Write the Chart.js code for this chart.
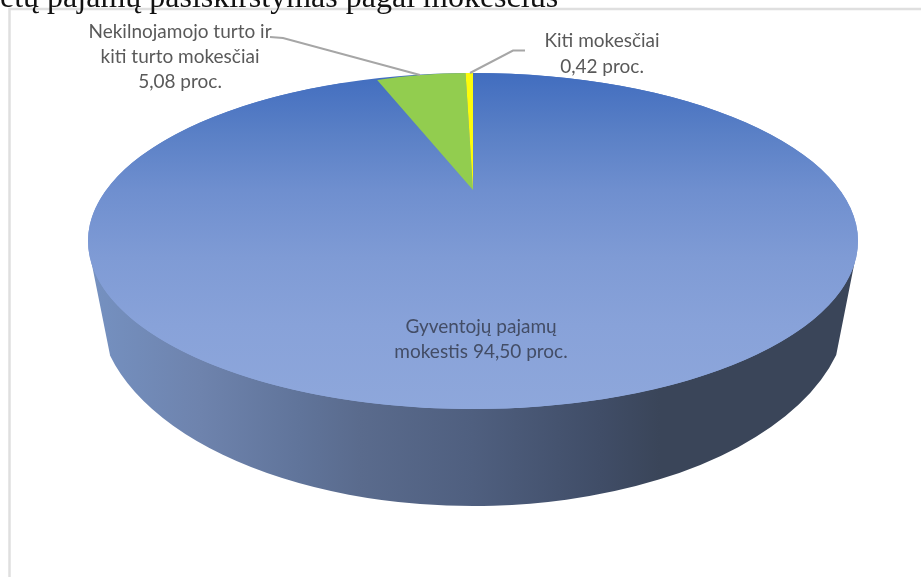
<!DOCTYPE html>
<html lang="lt">
<head>
<meta charset="utf-8">
<style>html,body{margin:0;padding:0;background:#fff;overflow:hidden}canvas{display:block}</style>
<script src="https://cdn.jsdelivr.net/npm/chart.js@4"></script>
</head>
<body>
<canvas id="c" width="921" height="577"></canvas>
<script>
const categories = ["Gyventojų pajamų mokestis", "Nekilnojamojo turto ir kiti turto mokesčiai", "Kiti mokesčiai"];
const shares = [94.50, 5.08, 0.42];
const sliceColors = ["#4472c4", "#92cd4f", "#fcfc0a"];
const heading = "etų pajamų pasiskirstymas pagal mokesčius";
const label0 = ["Gyventojų pajamų", "mokestis 94,50 proc."];
const label1 = ["Nekilnojamojo turto ir", "kiti turto mokesčiai", "5,08 proc."];
const label2 = ["Kiti mokesčiai", "0,42 proc."];

const CX = 473, CY = 241, RX = 385, RY = 168;   // top-face ellipse
const APEX_Y = 190, WEDGE_RX = 283, WEDGE_RY = 117; // perspective of the small wedges

function topGradient(ctx, y0, y1) {
  const g = ctx.createLinearGradient(0, y0, 0, y1);
  g.addColorStop(0, "#416dbf");
  g.addColorStop(0.18, "#5a80c6");
  g.addColorStop(0.35, "#6f8fcf");
  g.addColorStop(0.55, "#7f9bd5");
  g.addColorStop(0.75, "#88a2d9");
  g.addColorStop(1, "#8ea7db");
  return g;
}

const pie3d = {
  id: "pie3d",
  beforeDatasetDraw(chart, args) {
    const ctx = chart.ctx;
    const arcs = args.meta.data;
    const R = arcs[0].outerRadius, ax = arcs[0].x, ay = arcs[0].y;

    // frame
    ctx.save();
    ctx.strokeStyle = "#dfdfdf";
    ctx.lineWidth = 2.5;
    ctx.beginPath();
    ctx.moveTo(9.5, 577); ctx.lineTo(9.5, 9); ctx.lineTo(921, 9);
    ctx.stroke();

    // side wall
    const w = ctx.createLinearGradient(90, 0, 857, 0);
    [[90,"#7591c1"],[200,"#6e83ad"],[300,"#60749a"],[360,"#5a6b8d"],[473,"#4f5f7f"],[600,"#404d67"],[660,"#3a4559"],[857,"#3a4559"]]
      .forEach(s => w.addColorStop((s[0]-90)/767, s[1]));
    ctx.fillStyle = w;
    ctx.beginPath();
    ctx.moveTo(89, 250);
    ctx.lineTo(110, 355);
    ctx.ellipse(CX, 305, 375, 201, 0, Math.PI - Math.asin(50/201), Math.asin(50/201), true);
    ctx.lineTo(857, 250);
    ctx.closePath();
    ctx.fill();

    // full top face under the slices
    ctx.fillStyle = topGradient(ctx, CY - RY, CY + RY);
    ctx.beginPath();
    ctx.ellipse(CX, CY, RX, RY, 0, 0, Math.PI * 2);
    ctx.fill();
    ctx.restore();

    // slices, drawn by the library's arc elements
    arcs.forEach((arc, i) => {
      ctx.save();
      if (i === 0) {
        arc.options.backgroundColor = topGradient(ctx, ay - R, ay + R);
        ctx.translate(CX, CY); ctx.scale(RX / R, RY / R);
      } else {
        ctx.translate(CX, APEX_Y); ctx.scale(WEDGE_RX / R, WEDGE_RY / R);
      }
      ctx.translate(-ax, -ay);
      arc.draw(ctx);
      ctx.restore();
    });
    return false;
  },
  afterDatasetsDraw(chart) {
    const ctx = chart.ctx;
    ctx.save();
    // leader lines
    ctx.strokeStyle = "#a6a6a6";
    ctx.lineWidth = 2;
    ctx.beginPath();
    ctx.moveTo(270, 37); ctx.lineTo(283, 38); ctx.lineTo(420, 75);
    ctx.moveTo(525, 50.5); ctx.lineTo(513, 50.5); ctx.lineTo(470, 73);
    ctx.stroke();

    // heading
    ctx.fillStyle = "#111";
    ctx.font = '32px "Liberation Serif"';
    ctx.textAlign = "left";
    ctx.fillText(heading, 0, 7);

    // labels
    ctx.textAlign = "center";
    ctx.font = '19px Lato';
    ctx.fillStyle = "#595959";
    label1.forEach((t, i) => ctx.fillText(t, 180, [38, 63, 88][i]));
    label2.forEach((t, i) => ctx.fillText(t, 602, [47, 73][i]));
    ctx.fillStyle = "#434d66";
    label0.forEach((t, i) => ctx.fillText(t, 481, [333, 358][i]));
    ctx.restore();
  }
};

new Chart(document.getElementById("c"), {
  type: "pie",
  data: {
    labels: categories,
    datasets: [{ data: shares, backgroundColor: sliceColors, borderWidth: 0 }]
  },
  options: {
    responsive: false,
    animation: false,
    layout: { padding: 0 },
    plugins: { legend: { display: false }, tooltip: { enabled: false } }
  },
  plugins: [pie3d]
});
</script>
</body>
</html>
